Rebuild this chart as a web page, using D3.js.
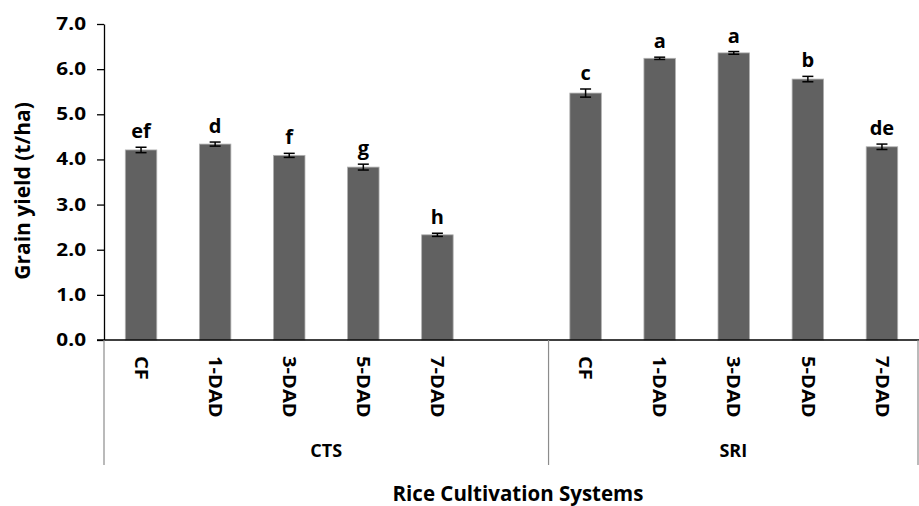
<!DOCTYPE html>
<html>
<head>
<meta charset="utf-8">
<script src="https://cdn.jsdelivr.net/npm/d3@7"></script>
<style>
  body { margin: 0; background: #fff; }
  svg text { font-family: "Open Sans", sans-serif; font-weight: bold; fill: #000; }
</style>
</head>
<body>
<svg class="chart"></svg>
<script>
// treatments within each cultivation system
var treatments = ["CF", "1-DAD", "3-DAD", "5-DAD", "7-DAD"];
var systems = ["CTS", "SRI"];

// mean grain yield (t/ha) and error bars
var ctsYield = [4.21, 4.34, 4.09, 3.83, 2.33];
var ctsError = [0.06, 0.045, 0.045, 0.065, 0.035];
var ctsLetters = ["ef", "d", "f", "g", "h"];

var sriYield = [5.47, 6.24, 6.36, 5.78, 4.28];
var sriError = [0.09, 0.025, 0.03, 0.06, 0.06];
var sriLetters = ["c", "a", "a", "b", "de"];

var yTicks = [0, 1, 2, 3, 4, 5, 6, 7];

var width = 919;
var height = 506;
var margin = {top: 24, right: 0, bottom: 166, left: 104};

// build rows; CTS has one empty slot after its last treatment
var rows = [];
treatments.forEach(function(t, i) {
    rows.push({key: "CTS|" + t, system: "CTS", label: t, value: ctsYield[i], err: ctsError[i], letter: ctsLetters[i]});
});
rows.push({key: "CTS|gap", system: "CTS", label: "", value: null});
treatments.forEach(function(t, i) {
    rows.push({key: "SRI|" + t, system: "SRI", label: t, value: sriYield[i], err: sriError[i], letter: sriLetters[i]});
});
var bars = rows.filter(function(d) { return d.value !== null; });

var svg = d3.select(".chart").attr("width", width).attr("height", height);

var x = d3.scaleBand().
    domain(rows.map(function(d) { return d.key; })).
    range([margin.left, width - margin.right]).
    paddingInner(0.575).
    paddingOuter(0.2875);

var y = d3.scaleLinear().
    domain([0, 7]).
    range([height - margin.bottom, margin.top]);

var y0 = y(0);

// bars
svg.append("g").selectAll("rect").data(bars).enter().append("rect").
    attr("x", function(d) { return x(d.key); }).
    attr("y", function(d) { return y(d.value); }).
    attr("width", x.bandwidth()).
    attr("height", function(d) { return y0 - y(d.value); }).
    attr("fill", "#616161").
    attr("stroke", "#b0b0b0").
    attr("stroke-width", 0.8);

// error bars
var cap = 5.5;
var eb = svg.append("g").attr("stroke", "#000").attr("stroke-width", 1.5).
    selectAll("g").data(bars).enter().append("g").
    attr("transform", function(d) { return "translate(" + (x(d.key) + x.bandwidth() / 2) + ",0)"; });
eb.append("line").
    attr("y1", function(d) { return y(d.value + d.err); }).
    attr("y2", function(d) { return y(d.value - d.err); });
eb.append("line").attr("x1", -cap).attr("x2", cap).
    attr("y1", function(d) { return y(d.value + d.err); }).
    attr("y2", function(d) { return y(d.value + d.err); });
eb.append("line").attr("x1", -cap).attr("x2", cap).
    attr("y1", function(d) { return y(d.value - d.err); }).
    attr("y2", function(d) { return y(d.value - d.err); });

// significance letters
svg.append("g").selectAll("text").data(bars).enter().append("text").
    attr("x", function(d) { return x(d.key) + x.bandwidth() / 2; }).
    attr("y", function(d) { return y(d.value + d.err) - 9; }).
    attr("text-anchor", "middle").
    style("font-size", "20px").
    text(function(d) { return d.letter; });

// y axis
var yAxis = svg.append("g").
    attr("transform", "translate(" + margin.left + ",0)").
    call(d3.axisLeft(y).tickValues(yTicks).tickFormat(d3.format(".1f")).tickSize(7).tickSizeOuter(0).tickPadding(11));
yAxis.select(".domain").attr("stroke", "#000").attr("stroke-width", 1.3);
yAxis.selectAll(".tick line").attr("stroke", "#000").attr("stroke-width", 1.3);
yAxis.selectAll(".tick text").
    style("font-size", "17px").
    each(function() {
        // the original figure is stretched sideways; widen numbers to match
        var w = this.getComputedTextLength();
        d3.select(this).attr("textLength", w * 1.22).attr("lengthAdjust", "spacingAndGlyphs");
    });

// baseline
svg.append("line").
    attr("x1", margin.left - 7).attr("x2", width).
    attr("y1", y0).attr("y2", y0).
    attr("stroke", "#000").attr("stroke-width", 1.3);

// group separators below the baseline
var bounds = [x.range()[0], x("SRI|CF") - x.step() * x.paddingInner() / 2, width - 1];
svg.append("g").selectAll("line").data(bounds).enter().append("line").
    attr("x1", function(d) { return d; }).attr("x2", function(d) { return d; }).
    attr("y1", y0).attr("y2", 465).
    attr("stroke", "#8c8c8c").attr("stroke-width", 1.2);

// treatment labels, rotated
svg.append("g").selectAll("text").data(bars).enter().append("text").
    attr("transform", function(d) { return "translate(" + (x(d.key) + x.bandwidth() / 2) + ",356) rotate(90)"; }).
    attr("dy", "0.35em").
    style("font-size", "18px").
    text(function(d) { return d.label; }).
    each(function() {
        var w = this.getComputedTextLength();
        d3.select(this).attr("textLength", w * 1.12).attr("lengthAdjust", "spacingAndGlyphs");
    });

// system labels
svg.append("g").selectAll("text").data(systems).enter().append("text").
    attr("x", function(s, i) { return (bounds[i] + bounds[i + 1]) / 2; }).
    attr("y", 457).
    attr("text-anchor", "middle").
    style("font-size", "18px").
    text(function(s) { return s; });

// axis titles
svg.append("text").
    attr("x", 518).attr("y", 501).
    attr("text-anchor", "middle").
    style("font-size", "20.5px").
    text("Rice Cultivation Systems");

svg.append("text").
    attr("transform", "translate(30,191) rotate(-90)").
    attr("text-anchor", "middle").
    style("font-size", "21px").
    text("Grain yield (t/ha)");
</script>
</body>
</html>
